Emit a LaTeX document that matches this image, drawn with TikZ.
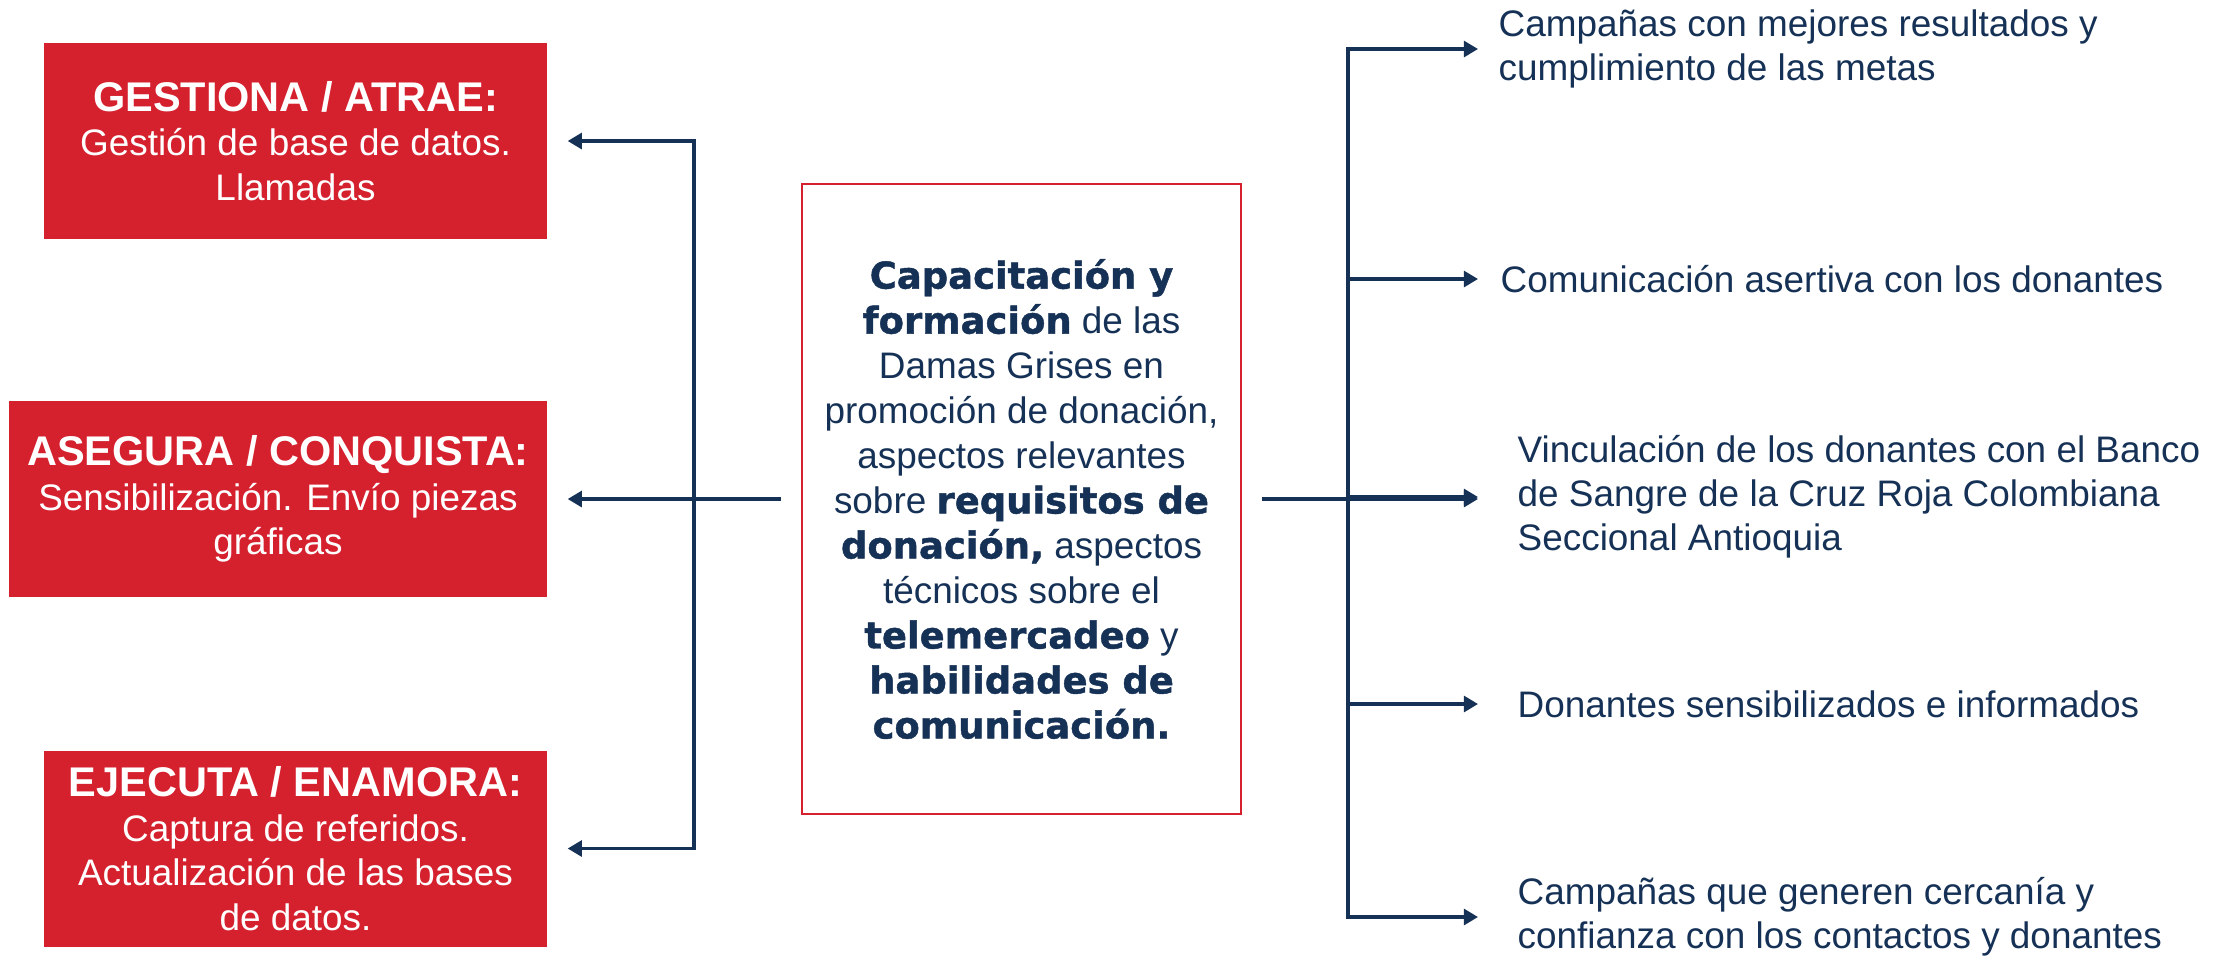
\documentclass[tikz,border=0pt]{standalone}
\usepackage{fontspec}
\setmainfont{Liberation Sans}
\newfontfamily\blackfont[Scale=1.0,FakeBold=1.2]{DejaVu Sans}
\usepackage{xcolor}
\usetikzlibrary{arrows.meta}
\definecolor{rojo}{RGB}{213,32,46}
\definecolor{azul}{RGB}{22,49,86}
\newcommand{\negra}[1]{{\blackfont\bfseries #1}}
\newcommand{\titulo}[1]{{\bfseries\fontsize{11.8}{13}\selectfont #1}}
\begin{document}
\begin{tikzpicture}[
  caja/.style={fill=rojo, text=white, align=center, inner sep=0pt, minimum height=1.96cm, font=\fontsize{10.5}{12.7}\selectfont},
  centro/.style={draw=rojo, line width=0.8pt, text=azul, align=center, inner sep=0pt, minimum width=4.39cm, minimum height=6.30cm, font=\fontsize{10.5}{12.8}\selectfont},
  texto/.style={text=azul, align=left, anchor=west, inner sep=0pt, font=\fontsize{10.5}{12.5}\selectfont},
  linea/.style={draw=azul, line width=0.9pt, line cap=rect},
  flecha/.style={draw=azul, line width=0.9pt, -{Triangle[length=4pt,width=4.5pt]}}
]
\useasboundingbox (0,0) rectangle (22.34,-9.60);

\node[caja, minimum width=5.03cm](1) at (2.955,-1.41){\titulo{GESTIONA / ATRAE:}\\Gestión de base de datos.\\Llamadas};
\node[caja, minimum width=5.38cm](2) at (2.78,-4.99){\titulo{ASEGURA / CONQUISTA:}\\Sensibilización. Envío piezas\\gráficas};
\node[caja, minimum width=5.03cm](3) at (2.955,-8.485){\titulo{EJECUTA / ENAMORA:}\\Captura de referidos.\\Actualización de las bases\\de datos.};
\node[centro](4) at (10.215,-4.99){\negra{Capacitación y}\\
  \negra{formación} de las\\
  Damas Grises en\\
  promoción de donación,\\
  aspectos relevantes\\
  sobre \negra{requisitos de}\\
  \negra{donación,} aspectos\\
  técnicos sobre el\\
  \negra{telemercadeo} y\\
  \negra{habilidades de}\\
  \negra{comunicación.}};
\node[texto](5) at (14.98,-0.49){Campañas con mejores resultados y\\cumplimiento de las metas};
\node[texto](6) at (15.00,-2.79){Comunicación asertiva con los donantes};
\node[texto](7) at (15.17,-4.97){Vinculación de los donantes con el Banco\\de Sangre de la Cruz Roja Colombiana\\Seccional Antioquia};
\node[texto](8) at (15.17,-7.04){Donantes sensibilizados e informados};
\node[texto](9) at (15.17,-9.17){Campañas que generen cercanía y\\confianza con los contactos y donantes};

\coordinate (izq) at (6.94,0);
\coordinate (der) at (13.48,0);
\coordinate (punta) at (14.78,0);

% lado izquierdo
\draw[flecha] ([xshift=-2mm]4.west) -- ([xshift=2mm]2.east);
\draw[linea] (izq |- 1.east) -- (izq |- 3.east);
\draw[flecha] (izq |- 1.east) -- ([xshift=2mm]1.east);
\draw[flecha] (izq |- 3.east) -- ([xshift=2mm]3.east);

% lado derecho
\draw[flecha] ([xshift=2mm]4.east) -- (punta |- 4.east);
\draw[linea] (der |- 5.west) -- (der |- 9.west);
\draw[flecha] (der |- 5.west) -- (punta |- 5.west);
\draw[flecha] (der |- 6.west) -- (punta |- 6.west);
\draw[flecha] (der |- 7.west) -- (punta |- 7.west);
\draw[flecha] (der |- 8.west) -- (punta |- 8.west);
\draw[flecha] (der |- 9.west) -- (punta |- 9.west);
\end{tikzpicture}
\end{document}
